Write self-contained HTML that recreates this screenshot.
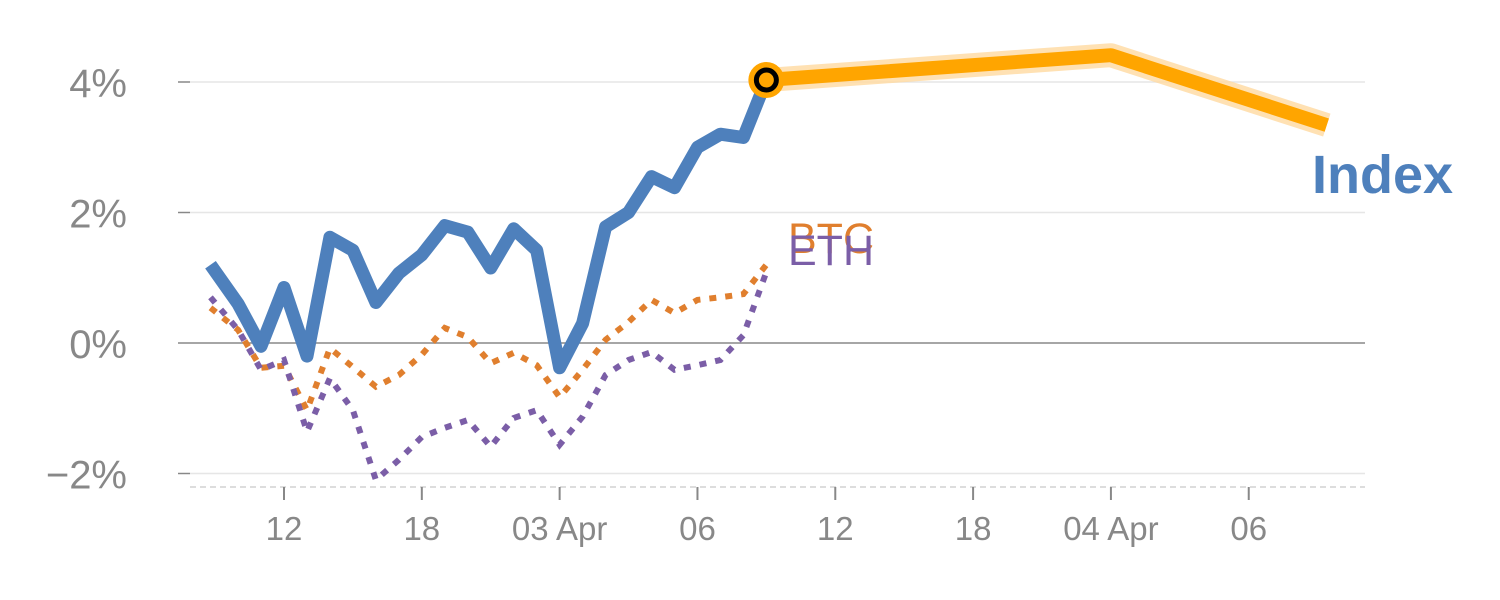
<!DOCTYPE html>
<html><head><meta charset="utf-8"><style>
html,body{margin:0;padding:0;background:#fff;}
svg{display:block;font-family:"Liberation Sans",sans-serif;}
</style></head><body>
<svg id="chart" width="1500" height="600"></svg>
<script>
const hours = [-3.2,-2,-1,0,1,2,3,4,5,6,7,8,9,10,11,12,13,14,15,16,17,18,19,20,21];
const indexVals = [1.2,0.6,-0.05,0.85,-0.2,1.62,1.42,0.62,1.07,1.35,1.8,1.7,1.15,1.75,1.42,-0.38,0.3,1.78,2.0,2.55,2.38,3.0,3.2,3.15,4.03];
const btcVals = [0.54,0.2,-0.38,-0.35,-1.03,-0.08,-0.37,-0.67,-0.49,-0.18,0.23,0.09,-0.31,-0.15,-0.34,-0.83,-0.41,0.05,0.32,0.66,0.46,0.66,0.7,0.75,1.2];
const ethVals = [0.7,0.2,-0.41,-0.26,-1.36,-0.54,-1.03,-2.1,-1.79,-1.44,-1.3,-1.18,-1.59,-1.15,-1.03,-1.56,-1.13,-0.49,-0.26,-0.14,-0.41,-0.34,-0.26,0.12,1.09];
const forecastHours = [21,36,45.4];
const forecastVals = [4.03,4.41,3.34];
const yTicks = [4,2,0,-2];
const yTickLabels = ["4%","2%","0%","\u22122%"];
const xTickHours = [0,6,12,18,24,30,36,42];
const xTickLabels = ["12","18","03 Apr","06","12","18","04 Apr","06"];

const X = h => 284 + h*22.97;
const Y = v => 343 - v*65.25;
const NS = "http://www.w3.org/2000/svg";
const svg = document.getElementById('chart');
function mk(tag, attrs, parent){const e=document.createElementNS(NS,tag);for(const k in attrs)e.setAttribute(k,attrs[k]);(parent||svg).appendChild(e);return e;}

yTicks.forEach((v,i)=>{
  const g = mk('line',{x1:190,x2:1365,y1:Y(v),y2:Y(v),stroke:v===0?'#888':'#e6e6e6','stroke-width':1.5});
  
  
  const t = mk('line',{x1:178,x2:190,y1:Y(v),y2:Y(v),stroke:'#888','stroke-width':1.5});
  
  
  const l = mk('text',{x:127,y:Y(v)+15,'text-anchor':'end','font-size':40,fill:'#888'});
  l.textContent = yTickLabels[i];
  
  
});
const ax = mk('line',{x1:190,x2:1365,y1:487,y2:487,stroke:'#ddd','stroke-width':2,'stroke-dasharray':'6,4'});


xTickHours.forEach((h,i)=>{
  const t = mk('line',{x1:X(h),x2:X(h),y1:487,y2:500,stroke:'#888','stroke-width':2});
  
  
  const l = mk('text',{x:X(h),y:540,'text-anchor':'middle','font-size':33,fill:'#888'});
  l.textContent = xTickLabels[i];
  
  
});
function pts(hs,vs){return hs.map((h,i)=>X(h).toFixed(1)+','+Y(vs[i]).toFixed(1)).join(' ');}
const btc = mk('polyline',{points:pts(hours,btcVals),fill:'none',stroke:'#e07f2e','stroke-width':6,'stroke-dasharray':'7,9'});


const eth = mk('polyline',{points:pts(hours,ethVals),fill:'none',stroke:'#7b5ea7','stroke-width':6,'stroke-dasharray':'7,9'});


const idx = mk('polyline',{points:pts(hours,indexVals),fill:'none',stroke:'#4e80bc','stroke-width':13,'stroke-linejoin':'round'});


const halo = mk('polyline',{points:pts(forecastHours,forecastVals),fill:'none',stroke:'#ffd9a0','stroke-width':24,'stroke-linejoin':'round','opacity':0.8});


const fc = mk('polyline',{points:pts(forecastHours,forecastVals),fill:'none',stroke:'#ffa500','stroke-width':14,'stroke-linejoin':'round'});


const last = indexVals.length-1;
const m1 = mk('circle',{cx:X(hours[last]),cy:Y(indexVals[last]),r:18,fill:'#ffa500'});


const m2 = mk('circle',{cx:X(hours[last]),cy:Y(indexVals[last]),r:10,fill:'#ffa500',stroke:'#000','stroke-width':5});


const lb = mk('text',{x:788,y:253,'font-size':43,fill:'#e07f2e'});
lb.textContent='BTC';


const le = mk('text',{x:788,y:265,'font-size':43,fill:'#7b5ea7'});
le.textContent='ETH';


const li = mk('text',{x:1312,y:193,'font-size':54,'font-weight':'bold',fill:'#4e80bc'});
li.textContent='Index';


</script>
</body></html>
